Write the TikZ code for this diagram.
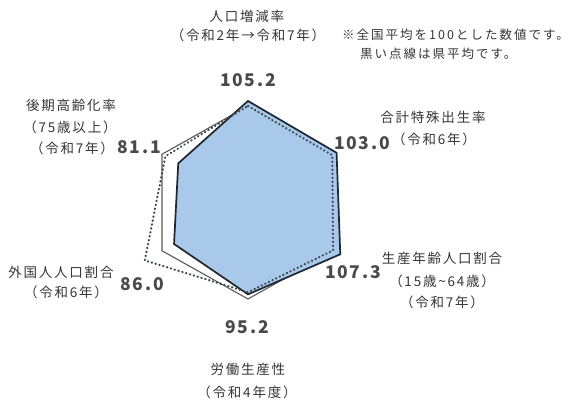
\documentclass[tikz,border=0pt]{standalone}
\usepackage{fontspec}
\setmainfont{Noto Sans CJK JP}
\newfontfamily\jpfont[LetterSpace=13]{Noto Sans CJK JP}
\newfontfamily\notefont[LetterSpace=16]{Noto Sans CJK JP}
\newfontfamily\numfont[LetterSpace=10]{Noto Sans CJK JP}
\usetikzlibrary{calc}
\definecolor{fillblue}{HTML}{A9C9EA}
\definecolor{edgedark}{HTML}{1E2630}
\definecolor{hexgray}{HTML}{5A5A5A}
\definecolor{dotgray}{HTML}{3F4650}
\definecolor{txtc}{HTML}{363636}
\definecolor{numc}{HTML}{4A4A4A}
\begin{document}
\begin{tikzpicture}[x=1pt,y=-1pt,
  lbl/.style={font=\jpfont\fontsize{13.5}{16}\selectfont, text=txtc, inner sep=0pt, align=center},
  notetxt/.style={font=\notefont\fontsize{12.5}{15}\selectfont, text=txtc, inner sep=0pt, anchor=west},
  num/.style={font=\numfont\bfseries\fontsize{17.5}{20}\selectfont, text=numc, inner sep=0pt},
  hexline/.style={draw=hexgray, line width=1.1pt, line join=miter},
  valpoly/.style={draw=edgedark, fill=fillblue, line width=1.7pt, line join=miter},
  avgline/.style={draw=dotgray, line width=2.2pt, line cap=round, dash pattern=on 0.4pt off 3.6pt},
]
\useasboundingbox (0,0) rectangle (573,403);
\fill[white] (0,0) rectangle (573,403);
\def\Ry{96.5}
\def\Rx{86}
\def\Rh{48.25}
\coordinate (C) at (248,202.5);
% national average = 100
\coordinate (gT) at ($(C)+(0,-\Ry)$);
\coordinate (gUR) at ($(C)+(\Rx,-\Rh)$);
\coordinate (gLR) at ($(C)+(\Rx,\Rh)$);
\coordinate (gB) at ($(C)+(0,\Ry)$);
\coordinate (gLL) at ($(C)+(-\Rx,\Rh)$);
\coordinate (gUL) at ($(C)+(-\Rx,-\Rh)$);
\draw[hexline] (gT) -- (gUR) -- (gLR) -- (gB) -- (gLL) -- (gUL) -- cycle;
% values
\coordinate (bT) at ($(C)+1.052*(0,-\Ry)$);
\coordinate (bUR) at ($(C)+1.030*(\Rx,-\Rh)$);
\coordinate (bLR) at ($(C)+1.073*(\Rx,\Rh)$);
\coordinate (bB) at ($(C)+0.952*(0,\Ry)$);
\coordinate (bLL) at ($(C)+0.860*(-\Rx,\Rh)$);
\coordinate (bUL) at ($(C)+0.811*(-\Rx,-\Rh)$);
\draw[valpoly] (bT) -- (bUR) -- (bLR) -- (bB) -- (bLL) -- (bUL) -- cycle;
% prefecture average
\coordinate (dT) at ($(C)+1.00*(0,-\Ry)$);
\coordinate (dUR) at ($(C)+0.98*(\Rx,-\Rh)$);
\coordinate (dLR) at ($(C)+0.99*(\Rx,\Rh)$);
\coordinate (dB) at ($(C)+0.93*(0,\Ry)$);
\coordinate (dLL) at ($(C)+1.20*(-\Rx,\Rh)$);
\coordinate (dUL) at ($(C)+0.96*(-\Rx,-\Rh)$);
\draw[avgline] (dT) -- (dUR) -- (dLR) -- (dB) -- (dLL) -- (dUL) -- cycle;
% labels
\node[lbl] (t1) at (247,16) {人口増減率};
\node[lbl] (t2) at (248,35) {（令和2年→令和7年）};
\node[num] (vT) at (248,80) {105.2};
\node[notetxt] (n1) at (342,35) {※全国平均を100とした数値です。};
\node[notetxt] (n2) at (360,54) {黒い点線は県平均です。};
\node[lbl] (ur1) at (433,117) {合計特殊出生率};
\node[lbl] (ur2) at (434,139) {（令和6年）};
\node[num] (vUR) at (362,143) {103.0};
\node[lbl] (lr1) at (442,258) {生産年齢人口割合};
\node[lbl] (lr2) at (442,281) {（15歳\char`\~64歳）};
\node[lbl] (lr3) at (442,302) {（令和7年）};
\node[num] (vLR) at (353,272) {107.3};
\node[num] (vB) at (247,327) {95.2};
\node[lbl] (b1) at (248,369) {労働生産性};
\node[lbl] (b2) at (247,392) {（令和4年度）};
\node[lbl] (ll1) at (61,272) {外国人人口割合};
\node[lbl] (ll2) at (66,292) {（令和6年）};
\node[num] (vLL) at (142,284) {86.0};
\node[lbl] (ul1) at (71,105) {後期高齢化率};
\node[lbl] (ul2) at (70,127) {（75歳以上）};
\node[lbl] (ul3) at (72,148) {（令和7年）};
\node[num] (vUL) at (139,147) {81.1};
\end{tikzpicture}
\end{document}
